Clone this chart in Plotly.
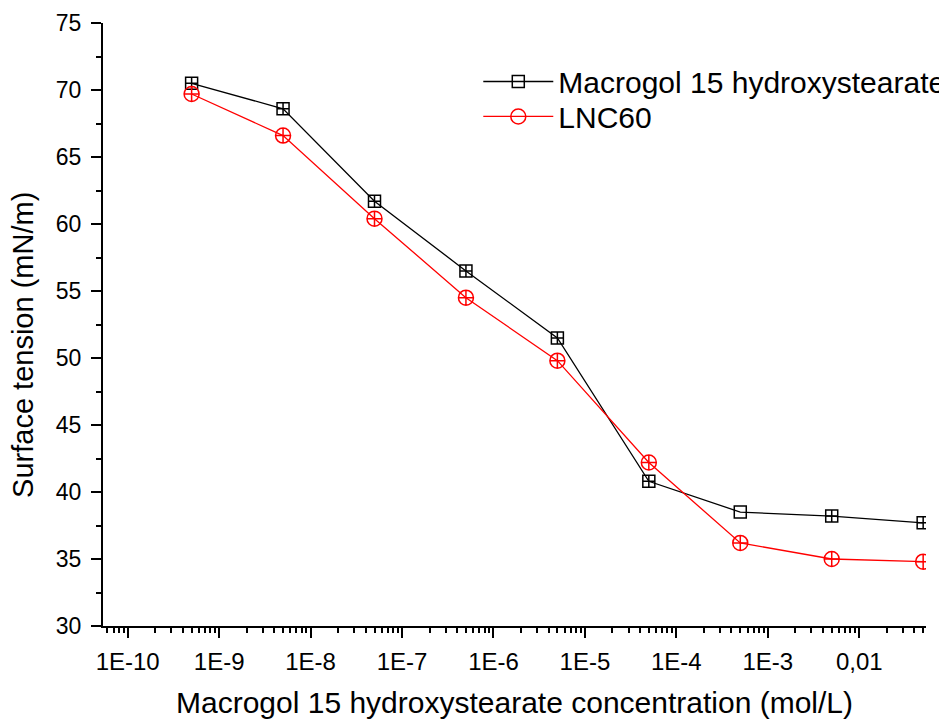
import plotly.graph_objects as go

conc = [5e-10, 5e-9, 5e-8, 5e-7, 5e-6, 5e-5, 5e-4, 5e-3, 5e-2]
macrogol = [70.5, 68.6, 61.7, 56.5, 51.5, 40.8, 38.5, 38.2, 37.7]
lnc60 = [69.7, 66.6, 60.4, 54.5, 49.8, 42.2, 36.2, 35.0, 34.8]

x_tickvals = [1e-10, 1e-9, 1e-8, 1e-7, 1e-6, 1e-5, 1e-4, 1e-3, 1e-2]
x_ticktext = ["1E-10", "1E-9", "1E-8", "1E-7", "1E-6", "1E-5", "1E-4", "1E-3", "0,01"]
y_tickvals = [30, 35, 40, 45, 50, 55, 60, 65, 70, 75]

names = ["Macrogol 15 hydroxystearate", "LNC60"]
x_title = "Macrogol 15 hydroxystearate concentration (mol/L)"
y_title = "Surface tension (mN/m)"

FONT = "Liberation Sans, Arial, sans-serif"

fig = go.Figure()
fig.add_trace(go.Scatter(
    x=conc, y=macrogol, mode="lines+markers", name=names[0], showlegend=False,
    line=dict(color="black", width=1.3),
    marker=dict(symbol=["square-cross-open"] * 6 + ["square-open"] + ["square-cross-open"] * 2,
                size=12, color="black", line=dict(width=1.5)),
    cliponaxis=True,
))
fig.add_trace(go.Scatter(
    x=conc, y=lnc60, mode="lines+markers", name=names[1], showlegend=False,
    line=dict(color="red", width=1.3),
    marker=dict(symbol="circle-cross-open", size=15, color="red", line=dict(width=1.5)),
    cliponaxis=True,
))
# legend entries (plain symbols as in the reference legend)
fig.add_trace(go.Scatter(
    x=[None], y=[None], mode="lines+markers", name=names[0], legend="legend",
    line=dict(color="black", width=1.3),
    marker=dict(symbol="square-open", size=12, color="black", line=dict(width=1.5)),
))
fig.add_trace(go.Scatter(
    x=[None], y=[None], mode="lines+markers", name=names[1], legend="legend2",
    line=dict(color="red", width=1.3),
    marker=dict(symbol="circle-open", size=15, color="red", line=dict(width=1.5)),
))

legend_style = dict(
    xanchor="left", yanchor="middle",
    font=dict(family=FONT, size=30, color="black"),
    bgcolor="rgba(0,0,0,0)", itemwidth=70,
)

fig.update_layout(
    width=939, height=714,
    margin=dict(l=95, r=21, t=15, b=96, autoexpand=False),
    paper_bgcolor="white", plot_bgcolor="white",
    font=dict(family=FONT, size=23, color="black"),
    showlegend=True,
    legend=dict(x=0.456, y=0.903, **legend_style),
    legend2=dict(x=0.456, y=0.845, **legend_style),
    xaxis=dict(
        type="log", range=[-10.27, -1.27], automargin=False,
        tickvals=x_tickvals, ticktext=x_ticktext,
        ticks="outside", ticklen=10, tickwidth=2, tickcolor="black",
        ticklabelstandoff=3,
        showline=True, linecolor="black", linewidth=2,
        showgrid=False, zeroline=False,
        minor=dict(ticks="outside", ticklen=5, tickwidth=1.5, tickcolor="black", dtick="D1", showgrid=False),
        tickfont=dict(family=FONT, size=24),
        title=dict(text=x_title, font=dict(family=FONT, size=30), standoff=18),
    ),
    yaxis=dict(
        range=[30, 75], tickvals=y_tickvals, automargin=False,
        ticks="outside", ticklen=10, tickwidth=2, tickcolor="black",
        ticklabelstandoff=5,
        showline=True, linecolor="black", linewidth=2,
        showgrid=False, zeroline=False,
        minor=dict(ticks="outside", ticklen=5, tickwidth=1.5, tickcolor="black", dtick=2.5, showgrid=False),
        tickfont=dict(family=FONT, size=23),
    ),
    annotations=[dict(
        text=y_title, textangle=-90, showarrow=False,
        xref="paper", yref="paper", x=-0.0966, y=0.467,
        xanchor="center", yanchor="middle",
        font=dict(family=FONT, size=29, color="black"),
    )],
)

fig.write_html("out.html")
